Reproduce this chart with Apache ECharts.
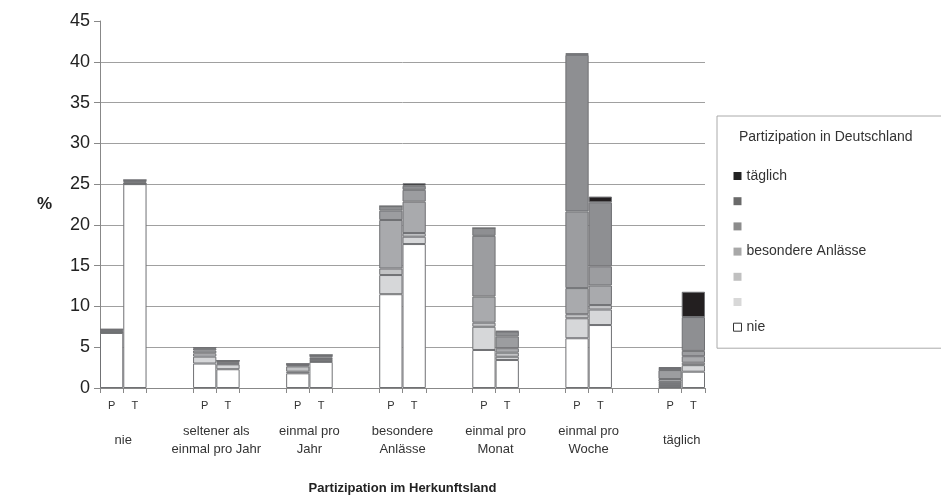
<!DOCTYPE html>
<html>
<head>
<meta charset="utf-8">
<script src="https://cdn.jsdelivr.net/npm/echarts@6/dist/echarts.min.js"></script>
<style>html,body{margin:0;padding:0;background:#fff}#c{width:941px;height:496px}</style>
</head>
<body>
<div id="c"></div>
<script>
// Categories (Partizipation im Herkunftsland), each with bars P and T
const groups = ['nie', 'seltener als\neinmal pro Jahr', 'einmal pro\nJahr', 'besondere\nAnlässe', 'einmal pro\nMonat', 'einmal pro\nWoche', 'täglich'];
const barLabels = ['P', 'T'];
// Series (Partizipation in Deutschland), values per group as [P, T] pairs (%)
const sNie        = [6.75, 25.0, 3.0, 2.3, 1.8, 3.2, 11.5, 17.65, 4.66, 3.43, 6.1, 7.72, 0.25, 2.0];
const sSeltener   = [0.05, 0.05, 0.85, 0.6, 0.2, 0.1, 2.35, 0.9, 2.85, 0.4, 2.45, 1.9, 0.25, 0.8];
const sJahr       = [0.05, 0.05, 0.4, 0.1, 0.65, 0.25, 0.8, 0.45, 0.5, 0.5, 0.5, 0.55, 0.25, 0.3];
const sBesondere  = [0.1, 0.1, 0.35, 0.15, 0.15, 0.2, 5.95, 3.85, 3.2, 0.55, 3.2, 2.4, 0.35, 0.8];
const sMonat      = [0.15, 0.2, 0.25, 0.15, 0.1, 0.2, 1.15, 1.45, 7.45, 1.45, 9.4, 2.35, 1.1, 0.65];
const sWoche      = [0.1, 0.1, 0.1, 0.05, 0.05, 0.1, 0.55, 0.5, 0.95, 0.6, 19.2, 7.85, 0.25, 4.15];
const sTaeglich   = [0, 0, 0, 0, 0, 0, 0, 0.3, 0, 0.05, 0.2, 0.7, 0.1, 3.1];
const seriesNames = ['nie', 'seltener als einmal pro Jahr', 'einmal pro Jahr', 'besondere Anlässe', 'einmal pro Monat', 'einmal pro Woche', 'täglich'];
const seriesValues = [sNie, sSeltener, sJahr, sBesondere, sMonat, sWoche, sTaeglich];
const seriesColors = ['#ffffff', '#d6d7d9', '#c3c4c6', '#a9aaad', '#9c9da0', '#8e8f92', '#231f20'];
const legendColors = ['#ffffff', '#d8d8d8', '#c0c0c0', '#a8a8a8', '#8c8c8c', '#6a6a6a', '#222222'];
const legendShown = ['täglich', 'besondere Anlässe', 'nie'];
const yTicks = {min: 0, max: 45, interval: 5};

// Build slot axis: P, T, gap, gap per group (no trailing gap after last group)
const slots = [];
const slotIndexOfBar = [];
groups.forEach((g, k) => {
  barLabels.forEach((b) => { slotIndexOfBar.push(slots.length); slots.push(b + '|' + k); });
  if (k < groups.length - 1) { slots.push('|' + k + 'a'); slots.push('|' + k + 'b'); }
});
const groupSlots = [];
groups.forEach((g, k) => { groupSlots.push(g); if (k < groups.length - 1) groupSlots.push('gap' + k); });

function expand(vals) {
  const out = slots.map(() => null);
  vals.forEach((v, i) => { out[slotIndexOfBar[i]] = v; });
  return out;
}

const legendData = seriesNames.map((n, i) => ({
  name: n,
  itemStyle: i === 0 ? {color: '#fff', borderColor: '#333', borderWidth: 1} : {color: legendColors[i], borderWidth: 0}
})).reverse();

const FONT = 'Liberation Sans, Arial, sans-serif';
const chart = echarts.init(document.getElementById('c'), null, {renderer: 'canvas'});
chart.setOption({
  animation: false,
  textStyle: {fontFamily: FONT},
  title: {
    text: 'Partizipation in Deutschland', left: 734, top: 125,
    textStyle: {fontSize: 14, fontWeight: 'normal', color: '#333', fontFamily: FONT}
  },
  legend: {
    orient: 'vertical', left: 717, top: 116,
    padding: [52, 300, 13, 16],
    borderColor: '#aaa', borderWidth: 1,
    itemWidth: 8, itemHeight: 8, itemGap: 9.2, icon: 'rect',
    data: legendData,
    formatter: (n) => legendShown.includes(n) ? n : ' ',
    textStyle: {fontSize: 14, color: '#333', lineHeight: 16, fontFamily: FONT}
  },
  grid: {left: 100, right: 236, top: 21, bottom: 108, containLabel: false, outerBoundsMode: 'none'},
  xAxis: [{
    type: 'category', data: slots, position: 'bottom',
    axisLine: {lineStyle: {color: '#888'}},
    axisTick: {show: true, interval: (i) => i % 4 !== 3, length: 5, lineStyle: {color: '#888'}},
    axisLabel: {interval: 0, margin: 12, fontSize: 11, color: '#333', formatter: (v) => v.split('|')[0]},
    splitLine: {show: false}
  }, {
    type: 'category', data: groupSlots, position: 'bottom',
    axisLine: {show: false}, axisTick: {show: false},
    axisLabel: {interval: 0, margin: 52, fontSize: 13, color: '#333', verticalAlign: 'middle', lineHeight: 18,
      formatter: (v) => v.startsWith('gap') ? '' : v},
    name: 'Partizipation im Herkunftsland', nameLocation: 'middle', nameGap: 94,
    nameTextStyle: {fontSize: 13, fontWeight: 'bold', color: '#222', fontFamily: FONT}
  }],
  yAxis: {
    type: 'value', min: yTicks.min, max: yTicks.max, interval: yTicks.interval,
    name: '%', nameLocation: 'middle', nameRotate: 0, nameGap: 48,
    nameTextStyle: {fontSize: 17, fontWeight: 'bold', color: '#222', fontFamily: FONT},
    axisLine: {show: true, lineStyle: {color: '#888'}},
    axisTick: {show: true, length: 6, lineStyle: {color: '#888'}},
    axisLabel: {fontSize: 18, color: '#222', margin: 10},
    splitLine: {show: true, showMaxLine: false, lineStyle: {color: '#a0a0a0'}}
  },
  series: seriesNames.map((n, i) => ({
    name: n, type: 'bar', stack: 'all', xAxisIndex: 0,
    barWidth: '100%', barCategoryGap: '0%',
    data: expand(seriesValues[i]),
    itemStyle: {color: seriesColors[i], borderColor: '#707174', borderWidth: 1},
    emphasis: {disabled: true}
  }))
});
</script>
</body>
</html>
